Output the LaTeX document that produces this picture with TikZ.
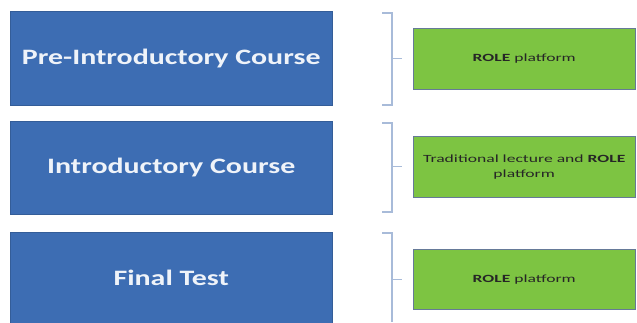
\documentclass[tikz,border=0pt]{standalone}
\usepackage{graphicx}
\usepackage{fontspec}
\setmainfont{Carlito}
\usetikzlibrary{positioning}
\definecolor{stageBlue}{HTML}{3D6DB3}
\definecolor{toolGreen}{HTML}{7DC442}
\definecolor{braceGrey}{HTML}{A8BBD9}
\newcommand{\widetext}[2][1.36]{\scalebox{#1}[1]{#2}}

\begin{document}
\begin{tikzpicture}[
  x=1pt,y=-1pt,
  every node/.style={inner sep=0pt},
  stage/.style={rectangle,draw=stageBlue!85!black,fill=stageBlue,text=white!92!stageBlue,
    minimum width=322pt,anchor=north west,font=\fontsize{22}{26}\selectfont\bfseries},
  tool/.style={rectangle,draw=black!40!stageBlue!70,fill=toolGreen,
    minimum width=222pt,minimum height=61pt,anchor=north west,
    text=black!85,font=\fontsize{11}{15}\selectfont},
  brace/.style={draw=braceGrey,line width=1.3pt},
]
  \useasboundingbox (0,0) rectangle (637,322);

  % course stages
  \node[stage,minimum height=94pt] (pre) at (10,11) {\widetext{Pre-Introductory Course}};
  \node[stage,minimum height=93pt] (intro) at (10,121) {\widetext{Introductory Course}};
  \node[stage,minimum height=91pt] (final) at (10,232) {\widetext{Final Test}};

  % tools used in each stage
  \node[tool] (rolePre) at (413,28) {\widetext[1.6]{\textbf{ROLE} platform}};
  \node[tool] (roleIntro) at (413,136)
    {\widetext[1.6]{\begin{tabular}{@{}c@{}}Traditional lecture and \textbf{ROLE}\\platform\end{tabular}}};
  \node[tool,minimum height=60pt] (roleFinal) at (413,249) {\widetext[1.6]{\textbf{ROLE} platform}};

  % brackets
  \draw[brace] (382,13) -- (392,13) -- (392,105) -- (382,105);
  \draw[brace] (382,123) -- (392,123) -- (392,212) -- (382,212);
  \draw[brace] (382,233) -- (392,233) -- (392,322);
  \foreach \g in {rolePre,roleIntro,roleFinal}
    \draw[brace] (\g.west) ++(-21,0) -- ++(10,0);
\end{tikzpicture}
\end{document}
